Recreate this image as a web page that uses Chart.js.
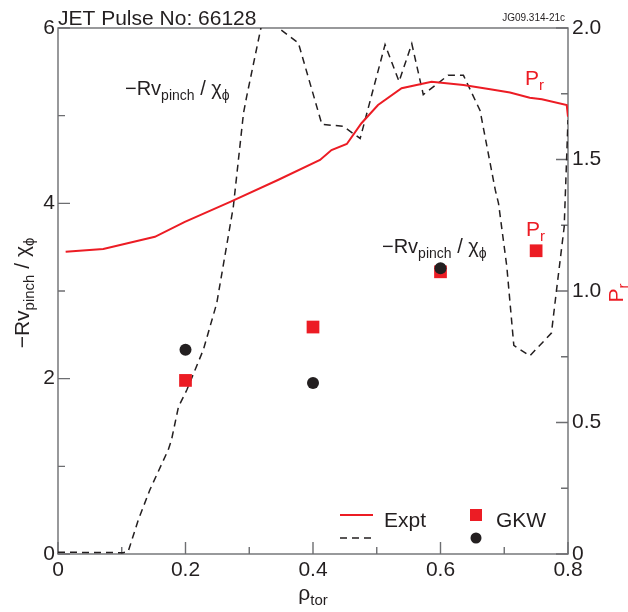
<!DOCTYPE html>
<html>
<head>
<meta charset="utf-8">
<script src="https://cdn.jsdelivr.net/npm/chart.js@4/dist/chart.umd.min.js"></script>
<style>
  html, body { margin: 0; padding: 0; background: #fff; }
  #wrap { width: 628px; height: 612px; }
</style>
</head>
<body>
<div id="wrap"><canvas id="pinchChart" width="628" height="612"></canvas></div>
<script>
// experimental Pr profile (right axis)
const exptRho = [0.012, 0.071, 0.152, 0.199, 0.271, 0.345, 0.411, 0.429, 0.453, 0.476, 0.502, 0.539, 0.586, 0.636, 0.678, 0.709, 0.740, 0.759, 0.798, 0.800];
const exptPr  = [1.149, 1.160, 1.206, 1.263, 1.340, 1.422, 1.498, 1.536, 1.559, 1.638, 1.707, 1.771, 1.796, 1.783, 1.767, 1.755, 1.735, 1.729, 1.707, 1.663];

// experimental -Rv_pinch / chi_phi (left axis)
const pinchRho = [0.0, 0.102, 0.110, 0.126, 0.144, 0.173, 0.178, 0.189, 0.202, 0.228, 0.249, 0.275, 0.291, 0.296, 0.322, 0.377, 0.414, 0.447, 0.474, 0.513, 0.535, 0.555, 0.573, 0.612, 0.636, 0.662, 0.686, 0.691, 0.704, 0.715, 0.740, 0.774, 0.782, 0.794, 0.800];
const pinchVal = [0.02, 0.015, 0.026, 0.39, 0.73, 1.19, 1.30, 1.68, 1.87, 2.33, 2.86, 3.96, 5.03, 5.22, 6.13, 5.83, 4.90, 4.88, 4.74, 5.81, 5.39, 5.82, 5.24, 5.46, 5.46, 5.06, 4.15, 4.00, 3.28, 2.38, 2.26, 2.52, 3.01, 3.73, 4.95];

// GKW results
const gkwPinchRho = [0.2, 0.4, 0.6];
const gkwPinch    = [2.33, 1.95, 3.26];
const gkwPrRho    = [0.2, 0.4, 0.6, 0.75];
const gkwPr       = [0.66, 0.863, 1.073, 1.153];

// ticks
const xMajor = [0, 0.2, 0.4, 0.6, 0.8];
const xMinor = [0.1, 0.3, 0.5, 0.7];
const leftMajor = [0, 2, 4, 6];
const leftMinor = [1, 3, 5];
const rightMajor = [0, 0.5, 1.0, 1.5, 2.0];
const rightMinor = [0.25, 0.75, 1.25, 1.75];

const FONT = '"Liberation Sans", Arial, sans-serif';
const RED = '#ec1c24';
const INK = '#231f20';

const pts = (xs, ys) => xs.map((x, i) => ({ x, y: ys[i] }));

// text with subscripts: parts = [[text, size, dy, color]]
function rich(ctx, x, y, parts, align) {
  let w = 0;
  parts.forEach(p => { ctx.font = p[1] + 'px ' + FONT; w += ctx.measureText(p[0]).width; });
  let cx = align === 'center' ? x - w / 2 : (align === 'right' ? x - w : x);
  ctx.textAlign = 'left';
  ctx.textBaseline = 'alphabetic';
  parts.forEach(p => {
    ctx.font = p[1] + 'px ' + FONT;
    ctx.fillStyle = p[3] || INK;
    ctx.fillText(p[0], cx, y + (p[2] || 0));
    cx += ctx.measureText(p[0]).width;
  });
}

const pinchLabel = (s, ss) => [['\u2212Rv', s], ['pinch', ss, 5], [' / \u03c7', s], ['\u03d5', ss, 5]];

const decor = {
  id: 'decor',
  beforeDatasetsDraw(chart) {
    const { ctx, chartArea: a, scales } = chart;
    ctx.save();
    ctx.strokeStyle = '#6d6e71';
    ctx.lineWidth = 1.4;
    ctx.strokeRect(a.left, a.top, a.right - a.left, a.bottom - a.top);
    ctx.beginPath();
    const tick = (list, len, fn) => list.forEach(v => fn(v, len));
    tick(xMajor, 12, (v, l) => { const px = scales.x.getPixelForValue(v); ctx.moveTo(px, a.bottom); ctx.lineTo(px, a.bottom - l); });
    tick(xMinor, 7, (v, l) => { const px = scales.x.getPixelForValue(v); ctx.moveTo(px, a.bottom); ctx.lineTo(px, a.bottom - l); });
    tick(leftMajor, 12, (v, l) => { const py = scales.y.getPixelForValue(v); ctx.moveTo(a.left, py); ctx.lineTo(a.left + l, py); });
    tick(leftMinor, 7, (v, l) => { const py = scales.y.getPixelForValue(v); ctx.moveTo(a.left, py); ctx.lineTo(a.left + l, py); });
    tick(rightMajor, 12, (v, l) => { const py = scales.y2.getPixelForValue(v); ctx.moveTo(a.right, py); ctx.lineTo(a.right - l, py); });
    tick(rightMinor, 7, (v, l) => { const py = scales.y2.getPixelForValue(v); ctx.moveTo(a.right, py); ctx.lineTo(a.right - l, py); });
    ctx.stroke();
    ctx.restore();
  },
  afterDraw(chart) {
    const { ctx } = chart;
    ctx.save();
    rich(ctx, 58, 25, [['JET Pulse No: 66128', 21]], 'left');
    rich(ctx, 565, 21, [['JG09.314-21c', 10]], 'right');

    rich(ctx, 125, 95, pinchLabel(20, 14), 'left');
    rich(ctx, 382, 253, pinchLabel(20, 14), 'left');
    rich(ctx, 525, 85, [['P', 21, 0, RED], ['r', 15, 5, RED]], 'left');
    rich(ctx, 526, 236, [['P', 21, 0, RED], ['r', 15, 5, RED]], 'left');

    // axis titles
    rich(ctx, 313, 600, [['\u03c1', 21], ['tor', 15, 5]], 'center');
    ctx.save();
    ctx.translate(29, 293);
    ctx.rotate(-Math.PI / 2);
    rich(ctx, 0, 0, pinchLabel(21, 15), 'center');
    ctx.restore();
    ctx.save();
    ctx.translate(623, 293);
    ctx.rotate(-Math.PI / 2);
    rich(ctx, 0, 0, [['P', 21, 0, RED], ['r', 15, 5, RED]], 'center');
    ctx.restore();

    // legend
    ctx.lineWidth = 2;
    ctx.strokeStyle = RED;
    ctx.beginPath(); ctx.moveTo(340, 515); ctx.lineTo(373, 515); ctx.stroke();
    ctx.strokeStyle = INK;
    ctx.lineWidth = 1.5;
    ctx.setLineDash([7, 5]);
    ctx.beginPath(); ctx.moveTo(340, 538); ctx.lineTo(373, 538); ctx.stroke();
    ctx.setLineDash([]);
    rich(ctx, 384, 527, [['Expt', 21]], 'left');
    ctx.fillStyle = RED;
    ctx.fillRect(470, 509, 12, 12);
    ctx.fillStyle = INK;
    ctx.beginPath(); ctx.arc(476, 538, 5.5, 0, Math.PI * 2); ctx.fill();
    rich(ctx, 496, 527, [['GKW', 21]], 'left');
    ctx.restore();
  }
};

const tickFont = { family: FONT, size: 21 };

new Chart(document.getElementById('pinchChart').getContext('2d'), {
  type: 'scatter',
  data: {
    datasets: [
      {
        label: 'GKW pinch',
        data: pts(gkwPinchRho, gkwPinch),
        yAxisID: 'y',
        pointStyle: 'circle',
        pointRadius: 6,
        backgroundColor: INK,
        borderWidth: 0,
        order: 0
      },
      {
        label: 'GKW Pr',
        data: pts(gkwPrRho, gkwPr),
        yAxisID: 'y2',
        pointStyle: 'rect',
        pointRadius: 9,
        backgroundColor: RED,
        borderWidth: 0,
        order: 1
      },
      {
        label: 'Expt Pr',
        data: pts(exptRho, exptPr),
        yAxisID: 'y2',
        showLine: true,
        borderColor: RED,
        borderWidth: 2,
        pointRadius: 0,
        tension: 0,
        order: 2
      },
      {
        label: 'Expt pinch',
        data: pts(pinchRho, pinchVal),
        yAxisID: 'y',
        showLine: true,
        borderColor: INK,
        borderWidth: 1.5,
        borderDash: [7, 5],
        pointRadius: 0,
        tension: 0,
        order: 3
      }
    ]
  },
  options: {
    responsive: false,
    animation: false,
    layout: { padding: { top: 28, left: 0, right: 0, bottom: 0 } },
    plugins: {
      legend: { display: false },
      title: { display: false },
      tooltip: { enabled: false }
    },
    scales: {
      x: {
        type: 'linear',
        min: 0, max: 0.8,
        grid: { display: false, drawTicks: false },
        border: { display: false },
        afterBuildTicks: s => { s.ticks = xMajor.map(v => ({ value: v })); },
        afterFit: s => { s.height = 58; },
        ticks: { font: tickFont, color: INK, padding: 4, maxRotation: 0, callback: v => String(v) }
      },
      y: {
        type: 'linear',
        position: 'left',
        min: 0, max: 6,
        grid: { display: false, drawTicks: false },
        border: { display: false },
        afterBuildTicks: s => { s.ticks = leftMajor.map(v => ({ value: v })); },
        afterFit: s => { s.width = 58; },
        ticks: { font: tickFont, color: INK, padding: 3 }
      },
      y2: {
        type: 'linear',
        position: 'right',
        min: 0, max: 2,
        grid: { display: false, drawTicks: false },
        border: { display: false },
        afterBuildTicks: s => { s.ticks = rightMajor.map(v => ({ value: v })); },
        afterFit: s => { s.width = 60; },
        ticks: { font: tickFont, color: INK, padding: 4, callback: v => v === 0 ? '0' : v.toFixed(1) }
      }
    }
  },
  plugins: [decor]
});
</script>
</body>
</html>
